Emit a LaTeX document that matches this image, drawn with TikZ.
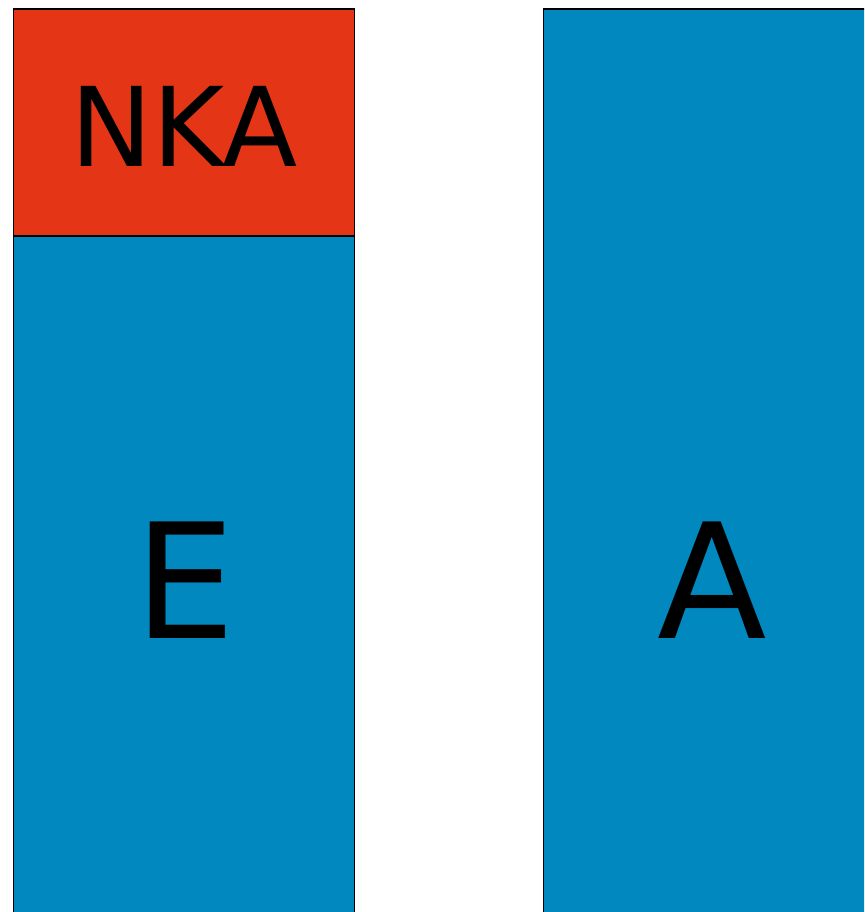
\documentclass[tikz,border=0pt]{standalone}
\usepackage{fontspec}
\setmainfont{DejaVu Sans}
\definecolor{nkared}{HTML}{E53517}
\definecolor{boxblue}{HTML}{0088BF}
\begin{document}
\begin{tikzpicture}[x=1pt,y=-1pt,
  block/.style={draw=black, line width=1.6pt, rectangle, inner sep=0pt, anchor=north west},
  bigtext/.style={inner sep=0pt, font=\fontsize{160}{160}\selectfont},
  midtext/.style={inner sep=0pt, font=\fontsize{110}{110}\selectfont}]
\useasboundingbox (0,0) rectangle (864,912);
\clip (0,0) rectangle (864,912);
\node[block, fill=boxblue, minimum width=341pt, minimum height=700pt] (e) at (12.5,235) {};
\node[block, fill=nkared, minimum width=341pt, minimum height=227pt] (nka) at (12.5,8) {};
\node[block, fill=boxblue, minimum width=340pt, minimum height=1000pt] (a) at (542.5,8) {};
\node[midtext] (tnka) at (184,126) {NKA};
\node[bigtext] (te) at (185,580) {E};
\node[bigtext] (ta) at (712,580) {A};
\end{tikzpicture}
\end{document}
